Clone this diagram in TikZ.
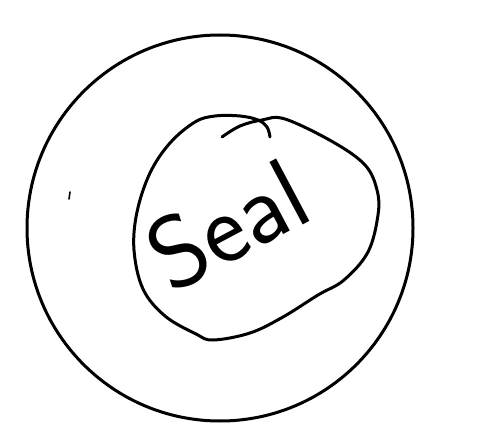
\documentclass[tikz,border=0pt]{standalone}
\usepackage{fontspec}
\begin{document}
\begin{tikzpicture}[x=1pt,y=-1pt,
  ink/.style={draw=black,line width=3pt,line cap=round,line join=round}]
\useasboundingbox (0,0) rectangle (485,436);
% outer circle
\draw[ink] (220,228) circle[radius=193];
% small tick mark
\draw[line width=1.6pt,line cap=round] (70,192) -- (69,199);
% inner blob
\draw[ink] plot[smooth,tension=0.6] coordinates {
  (222,137) (240,126) (262,120) (285,119) (333,142) (365,165) (377,190)
  (378,215) (368,252) (344,280) (318,295) (283,317) (250,333) (213,340)
  (196,334) (165,316) (143,289) (134,250) (137,212) (150,173) (170,143)
  (195,122) (215,116) (240,116) (258,120) (267,127) (270,137)};
% label
\node[rotate=28,anchor=base,inner sep=0pt,font=\sffamily\fontsize{102}{102}\selectfont] (seal) at (244,256) {Seal};
\end{tikzpicture}
\end{document}
